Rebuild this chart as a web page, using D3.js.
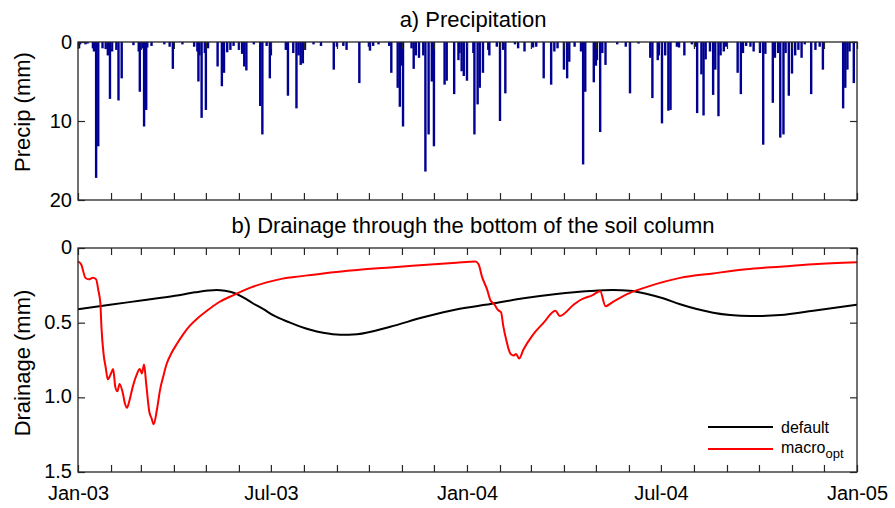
<!DOCTYPE html>
<html>
<head>
<meta charset="utf-8">
<script src="https://cdn.jsdelivr.net/npm/d3@7"></script>
<style>
  html, body { margin: 0; padding: 0; background: #fff; }
  svg { display: block; font-family: "Liberation Sans", Arial, sans-serif; }
</style>
</head>
<body>
<svg id="chart" width="895" height="508"></svg>
<script>
// ---------------- DATA ----------------
// Daily precipitation: day index counted from 1 Jan 2003, value in mm
const precipDay = [1,2,7,9,14,15,16,17,19,23,26,28,30,32,36,38,41,52,57,58,59,61,62,64,65,69,81,86,89,98,109,112,113,114,116,119,120,122,131,135,137,140,143,
  146,151,154,156,158,165,171,173,177,180,181,195,197,202,205,207,209,211,213,221,228,240,243,249,252,264,273,274,277,282,
  292,294,300,302,303,305,313,315,317,320,324,326,329,332,334,344,346,353,357,358,360,362,365,371,372,375,377,380,385,386,393,396,399,401,410,413,419,427,430,437,
  444,447,450,456,459,461,466,472,474,476,484,486,487,490,492,495,506,514,518,526,537,539,544,545,548,551,554,556,562,564,569,576,579,581,
  585,587,589,593,596,598,601,603,606,608,619,622,624,627,631,634,640,643,645,652,654,657,659,662,664,667,670,673,676,679,682,688,692,696,699,718,720,722,724,728];
const precipMm = [0.8,0.3,0.3,0.2,0.8,1.2,0.6,17.2,13.2,0.8,0.9,1.7,7.2,1.2,1.0,7.4,4.6,0.4,1.2,6.3,1.0,0.8,10.7,8.6,0.7,0.5,0.3,0.6,3.4,0.3,0.6,1.2,5.0,1.7,9.6,1.4,8.6,0.8,3.1,5.6,3.9,1.3,1.0,
  0.5,1.0,1.5,3.1,3.6,0.3,8.1,11.7,0.5,4.6,1.7,1.0,6.8,1.4,8.4,1.7,2.9,2.7,1.0,0.3,0.5,3.5,0.6,0.5,1.0,5.2,0.6,1.1,0.5,0.3,
  0.5,3.9,5.8,8.2,3.0,10.7,0.8,3.4,1.7,2.0,1.7,16.4,11.7,5.0,13.2,5.4,4.9,6.6,2.3,1.4,3.7,4.3,4.9,1.4,11.7,7.9,5.8,3.9,1.0,1.7,0.6,10.0,1.0,6.5,0.3,0.8,1.2,0.7,0.6,4.6,
  5.4,1.2,0.8,3.5,4.6,2.5,0.6,1.2,15.5,6.3,5.1,3.0,2.3,11.4,1.4,2.9,0.3,0.6,6.5,0.2,2.0,7.1,2.3,1.7,10.3,1.7,8.7,8.6,0.6,0.7,1.7,0.3,0.6,9.0,
  4.1,9.3,2.2,1.2,6.7,3.5,9.4,1.7,1.2,0.6,3.9,6.6,1.4,0.5,0.6,1.2,1.4,13.0,1.5,7.7,2.0,1.4,12.1,11.7,1.4,6.8,4.0,1.7,1.0,2.0,0.3,6.6,1.0,0.6,3.5,8.4,5.8,3.5,1.2,5.2];

// Drainage, "default" run
const defaultDay = [0,30,61,91,110,122,130,138,146,155,164,174,183,199,208,218,230,246,262,293,324,356,387,418,449,480,502,518,534,549,565,596,612,631,659,690,731];
const defaultMm  = [0.41,0.38,0.35,0.32,0.297,0.285,0.281,0.287,0.30,0.33,0.37,0.41,0.45,0.50,0.525,0.548,0.568,0.581,0.577,0.527,0.464,0.41,0.375,0.337,0.308,0.288,0.281,0.286,0.308,0.337,0.377,0.433,0.449,0.456,0.449,0.42,0.38];

// Drainage, "macro_opt" run
const macroDay = [0,3,7,10,14,17,19,21,22,24,26,28,31,33,35,37,39,42,44,46,48,51,55,58,60,62,64,67,69,71,74,77,80,83,88,93,99,105,113,121,133,146,160,177,192,208,230,262,293,324,355,373,
  376,379,384,387,391,394,397,399,402,406,409,411,414,418,427,437,448,452,465,471,483,490,495,502,518,534,565,596,627,659,690,731];
const macroMm  = [0.09,0.11,0.20,0.21,0.20,0.21,0.28,0.37,0.53,0.71,0.80,0.88,0.84,0.81,0.93,0.96,0.91,0.97,1.04,1.07,1.03,0.94,0.85,0.81,0.84,0.78,0.91,1.10,1.14,1.18,1.085,0.95,0.86,0.78,0.70,0.64,0.575,0.52,0.465,0.42,0.36,0.315,0.27,0.23,0.205,0.19,0.17,0.147,0.13,0.114,0.098,0.09,
  0.11,0.19,0.28,0.35,0.38,0.415,0.43,0.52,0.62,0.71,0.72,0.71,0.74,0.68,0.58,0.50,0.42,0.455,0.38,0.35,0.315,0.29,0.39,0.36,0.30,0.26,0.20,0.17,0.143,0.125,0.109,0.096];

const precipTicks = [0, 10, 20];
const drainTicks = [0, 0.5, 1.0, 1.5];
const drainTickLabels = ["0", "0.5", "1.0", "1.5"];
const dateTickLabels = ["Jan-03", "Jul-03", "Jan-04", "Jul-04", "Jan-05"];
const titleA = "a) Precipitation";
const titleB = "b) Drainage through the bottom of the soil column";

// ---------------- LAYOUT ----------------
const svg = d3.select("#chart");
const L = 78, R = 857;
const topA = 42, botA = 200;
const topB = 248, botB = 472;
const start = new Date(2003, 0, 1), end = new Date(2005, 0, 1);
const dayToDate = d => new Date(2003, 0, 1 + d);

const x = d3.scaleTime().domain([start, end]).range([L, R]);
const yP = d3.scaleLinear().domain([0, 20]).range([topA, botA]);
const yD = d3.scaleLinear().domain([0, 1.5]).range([topB, botB]);

const axisColor = "#262626";
const tickLen = 7;
const months = d3.timeMonth.range(start, d3.timeMonth.offset(end, 1));
const labelMonths = months.filter(m => m.getMonth() % 6 === 0);

function styleAxis(g, fontSize) {
  g.select(".domain").remove();
  g.selectAll(".tick line").attr("stroke", axisColor).attr("stroke-width", 1.2);
  g.selectAll(".tick text").attr("fill", "#000").style("font-size", fontSize + "px")
    .style("font-family", '"Liberation Sans", Arial, sans-serif');
}

// ---------------- PANEL A ----------------
const gA = svg.append("g");
gA.append("g").selectAll("rect")
  .data(precipDay.map((d, i) => ({ d, v: precipMm[i] })))
  .join("rect")
  .attr("x", p => x(dayToDate(p.d)) - 1.2)
  .attr("y", yP(0))
  .attr("width", 2.4)
  .attr("height", p => yP(p.v) - yP(0))
  .attr("fill", "#000092");

gA.append("g").attr("transform", `translate(0,${botA})`)
  .call(d3.axisBottom(x).tickValues(months).tickSize(-tickLen).tickFormat(""))
  .call(g => styleAxis(g, 20));
gA.append("g").attr("transform", `translate(0,${topA})`)
  .call(d3.axisTop(x).tickValues(months).tickSize(-tickLen).tickFormat(""))
  .call(g => styleAxis(g, 20));
gA.append("g").attr("transform", `translate(${L},0)`)
  .call(d3.axisLeft(yP).tickValues(precipTicks).tickSize(-tickLen).tickPadding(6).tickFormat(d3.format("d")))
  .call(g => styleAxis(g, 20))
  .call(g => g.selectAll(".tick text").attr("dy", "0.3em"));
gA.append("g").attr("transform", `translate(${R},0)`)
  .call(d3.axisRight(yP).tickValues(precipTicks).tickSize(-tickLen).tickFormat(""))
  .call(g => styleAxis(g, 20));
gA.append("rect").attr("x", L).attr("y", topA).attr("width", R - L).attr("height", botA - topA)
  .attr("fill", "none").attr("stroke", axisColor).attr("stroke-width", 1.3);

gA.append("text").attr("x", 473).attr("y", 27).attr("text-anchor", "middle")
  .style("font-size", "22px").text(titleA);
gA.append("text").attr("transform", "translate(30,112) rotate(-90)").attr("text-anchor", "middle")
  .style("font-size", "22px").text("Precip (mm)");

// ---------------- PANEL B ----------------
const gB = svg.append("g");
gB.append("g").attr("transform", `translate(0,${botB})`)
  .call(d3.axisBottom(x).tickValues(months).tickSize(-tickLen).tickPadding(14)
    .tickFormat(d => { const i = labelMonths.findIndex(m => +m === +d); return i >= 0 ? dateTickLabels[i] : ""; }))
  .call(g => styleAxis(g, 20));
gB.append("g").attr("transform", `translate(0,${topB})`)
  .call(d3.axisTop(x).tickValues(months).tickSize(-tickLen).tickFormat(""))
  .call(g => styleAxis(g, 20));
gB.append("g").attr("transform", `translate(${L},0)`)
  .call(d3.axisLeft(yD).tickValues(drainTicks).tickSize(-tickLen).tickPadding(6)
    .tickFormat((d, i) => drainTickLabels[i]))
  .call(g => styleAxis(g, 20))
  .call(g => g.selectAll(".tick text").attr("dy", "0.27em"));
gB.append("g").attr("transform", `translate(${R},0)`)
  .call(d3.axisRight(yD).tickValues(drainTicks).tickSize(-tickLen).tickFormat(""))
  .call(g => styleAxis(g, 20));

const lineDefault = d3.line().x((d, i) => x(dayToDate(defaultDay[i]))).y(d => yD(d)).curve(d3.curveMonotoneX);
const lineMacro = d3.line().x((d, i) => x(dayToDate(macroDay[i]))).y(d => yD(d)).curve(d3.curveMonotoneX);

gB.append("path").attr("d", lineDefault(defaultMm)).attr("fill", "none").attr("stroke", "#000").attr("stroke-width", 2);
gB.append("path").attr("d", lineMacro(macroMm)).attr("fill", "none").attr("stroke", "#ff0000").attr("stroke-width", 2)
  .attr("stroke-linejoin", "round");

gB.append("rect").attr("x", L).attr("y", topB).attr("width", R - L).attr("height", botB - topB)
  .attr("fill", "none").attr("stroke", axisColor).attr("stroke-width", 1.3);

gB.append("text").attr("x", 473).attr("y", 233).attr("text-anchor", "middle")
  .style("font-size", "22px").text(titleB);
gB.append("text").attr("transform", "translate(30,363) rotate(-90)").attr("text-anchor", "middle")
  .style("font-size", "22px").text("Drainage (mm)");

// Legend
const leg = gB.append("g");
leg.append("line").attr("x1", 708).attr("x2", 773).attr("y1", 427).attr("y2", 427).attr("stroke", "#000").attr("stroke-width", 2);
leg.append("line").attr("x1", 708).attr("x2", 773).attr("y1", 449).attr("y2", 449).attr("stroke", "#ff0000").attr("stroke-width", 2);
leg.append("text").attr("x", 781).attr("y", 433).style("font-size", "16px").text("default");
const t2 = leg.append("text").attr("x", 781).attr("y", 453).style("font-size", "16px");
t2.append("tspan").text("macro");
t2.append("tspan").attr("dy", 5).style("font-size", "13px").text("opt");
</script>
</body>
</html>
